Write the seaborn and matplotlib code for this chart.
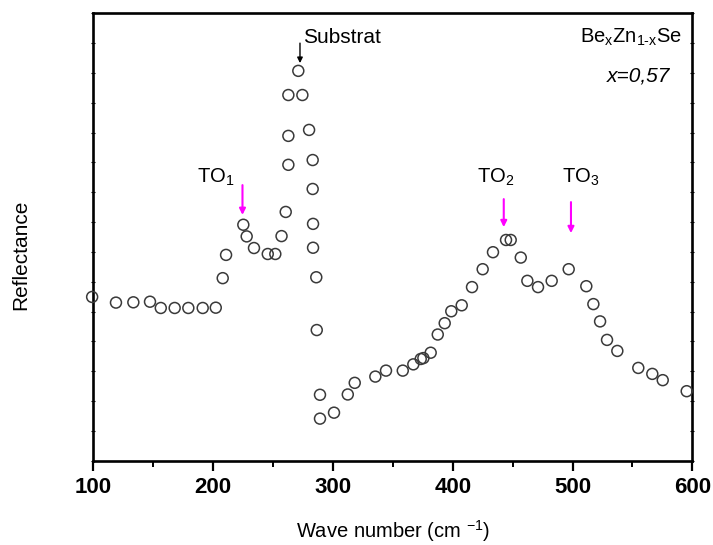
import numpy as np
import pandas as pd
import matplotlib
matplotlib.use("Agg")
import matplotlib.pyplot as plt
import seaborn as sns
from matplotlib.ticker import MultipleLocator, NullFormatter

# measured reflectance spectrum (arbitrary units)
wave_number = [99, 118.9, 133.4, 147.3, 156.3, 167.9, 179.3, 191.3, 202.2, 208.0,
               210.8, 225.2, 228.0, 234.1, 245.6, 251.9, 257.1, 260.6, 262.8, 262.8,
               262.8, 271.1, 274.5, 280.1, 283.1, 283.1, 283.4, 283.4, 286.1, 286.5,
               289.2, 289.2, 300.9, 312.4, 318.2, 335.4, 344.3, 358.3, 367.1, 373.3,
               375.5, 381.6, 387.5, 393.3, 398.8, 407.5, 416.1, 425.0, 433.6, 444.5,
               448.4, 456.8, 462.3, 471.2, 482.6, 496.8, 511.5, 517.4, 523.0, 528.8,
               537.4, 554.9, 566.6, 575.3, 595.3]
reflectance = [5.49, 5.30, 5.31, 5.33, 5.12, 5.12, 5.12, 5.12, 5.13, 6.12,
               6.90, 7.91, 7.52, 7.13, 6.93, 6.93, 7.53, 8.34, 9.92, 10.89,
               12.26, 13.07, 12.26, 11.09, 10.08, 9.11, 7.94, 7.14, 6.15, 4.38,
               2.21, 1.41, 1.61, 2.22, 2.61, 2.82, 3.02, 3.02, 3.23, 3.41,
               3.44, 3.62, 4.23, 4.61, 5.01, 5.21, 5.82, 6.42, 6.99, 7.40,
               7.40, 6.81, 6.03, 5.82, 6.03, 6.42, 5.85, 5.25, 4.67, 4.05,
               3.68, 3.11, 2.91, 2.70, 2.33]

# TO modes: label, arrow position, label left edge, arrow top / tip
to_labels = ["TO$_1$", "TO$_2$", "TO$_3$"]
to_positions = [224.5, 442.6, 498.7]
to_text_x = [186.6, 420.3, 491.2]
to_arrow_top = [9.24, 8.77, 8.67]
to_arrow_tip = [8.24, 7.83, 7.63]

df = pd.DataFrame({"wn": wave_number, "R": reflectance})

sns.set_style("ticks")
plt.rcParams["font.family"] = ["Liberation Sans", "DejaVu Sans"]
plt.rcParams["mathtext.fontset"] = "custom"
plt.rcParams["mathtext.rm"] = "Liberation Sans"
plt.rcParams["mathtext.it"] = "Liberation Sans:italic"
plt.rcParams["mathtext.default"] = "regular"
plt.rcParams["text.color"] = "black"
plt.rcParams["axes.labelcolor"] = "black"
plt.rcParams["xtick.color"] = "black"
plt.rcParams["ytick.color"] = "black"

fig = plt.figure(figsize=(7.13, 5.45), dpi=100)
ax = fig.add_axes([0.1309, 0.1547, 0.8401, 0.8209])

sns.scatterplot(data=df, x="wn", y="R", ax=ax, marker="o", s=62,
                facecolor="none", edgecolor="#3a3a3a", linewidth=1.1,
                clip_on=False, zorder=3)

ax.set_xlim(100, 600)
ax.set_ylim(0, 15)
ax.xaxis.set_major_locator(MultipleLocator(100))
ax.xaxis.set_minor_locator(MultipleLocator(50))
ax.yaxis.set_major_locator(MultipleLocator(1))
ax.yaxis.set_major_formatter(NullFormatter())

for side in ["top", "right", "left", "bottom"]:
    ax.spines[side].set_visible(True)
    ax.spines[side].set_linewidth(1.9)
    ax.spines[side].set_color("black")

ax.tick_params(axis="x", which="major", direction="out", length=7, width=1.6,
               bottom=True, top=False, labelsize=16, pad=5)
ax.tick_params(axis="x", which="minor", direction="out", length=4.5, width=1.4,
               bottom=True, top=False)
ax.tick_params(axis="y", which="major", direction="inout", length=2.5, width=0.8,
               left=True, right=True)
for lab in ax.get_xticklabels():
    lab.set_fontweight("bold")

ax.set_xlabel("Wave number (cm $^{-1}$)", fontsize=14.5)
ax.set_ylabel("Reflectance", fontsize=15)
ax.xaxis.set_label_coords(0.5, -0.128)
ax.yaxis.set_label_coords(-0.1057, 0.46)

# annotations
ax.annotate("", xy=(272.5, 13.33), xytext=(272.5, 14.0),
            arrowprops=dict(arrowstyle="-|>", color="black", lw=1.0,
                            mutation_scale=8, shrinkA=0, shrinkB=0))
ax.text(275, 14.0, "Substrat", fontsize=15, ha="left", va="baseline")

for lab, pos, tx, top, tip in zip(to_labels, to_positions, to_text_x,
                                  to_arrow_top, to_arrow_tip):
    ax.annotate("", xy=(pos, tip), xytext=(pos, top),
                arrowprops=dict(arrowstyle="-|>", color="magenta", lw=1.5,
                                mutation_scale=9, shrinkA=0, shrinkB=0))
    ax.text(tx, 9.31, lab, fontsize=14.5, ha="left", va="baseline")

ax.text(0.9828, 14.0, "Be$_x$Zn$_{1\\text{-}x}$Se", transform=ax.get_yaxis_transform(),
        fontsize=14.5, ha="right", va="baseline")
ax.text(0.9628, 12.70, "x=0,57", transform=ax.get_yaxis_transform(), fontsize=15,
        style="italic", ha="right", va="baseline")

fig.savefig("out.png", dpi=100)
